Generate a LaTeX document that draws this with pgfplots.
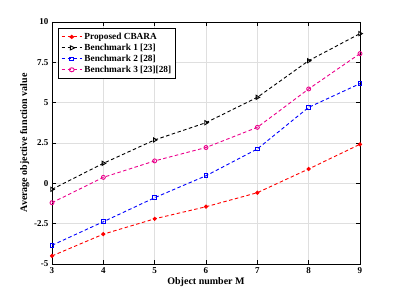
\documentclass[border=0pt]{standalone}
\usepackage{pgfplots}
\pgfplotsset{compat=1.18}
\usepackage{fontspec}
\setmainfont{Liberation Serif}
\begin{document}
\begin{tikzpicture}[x=1pt,y=1pt]
\path[use as bounding box] (0,0) rectangle (397,297);
\begin{axis}[
  at={(52pt,33pt)}, anchor=south west,
  scale only axis, width=308pt, height=242pt,
  xmin=3, xmax=9, ymin=-5, ymax=10,
  xtick={3,4,5,6,7,8,9},
  ytick={-5,-2.5,0,2.5,5,7.5,10},
  yticklabels={-5,-2.5,0,2.5,5,7.5,10},
  /pgf/number format/assume math mode=true,
  ticklabel style={font=\bfseries\fontsize{9}{10}\selectfont},
  tick align=inside, major tick length=4pt,
  tick style={black, line width=0.6pt},
  axis line style={line width=0.8pt},
  grid=major, grid style={gray!25, line width=0.7pt},
  xlabel={\bfseries Object number M},
  ylabel={\bfseries Average objective function value},
  label style={font=\bfseries\fontsize{10}{12}\selectfont},
  xlabel style={yshift=3pt},
  ylabel style={yshift=-2pt},
  legend style={at={(0.02,0.975)}, anchor=north west, draw=black, line width=0.8pt,
    font=\bfseries\fontsize{9.3}{11}\selectfont, row sep=-1pt, inner sep=2.5pt},
  legend cell align=left,
  legend image post style={xscale=1.2},
  every axis plot/.append style={line width=0.9pt, dash pattern=on 3.5pt off 2.5pt},
]
\addplot[red, mark=*, mark size=1.6pt, mark options={solid}] coordinates {
(3,-4.50) (4,-3.15) (5,-2.20) (6,-1.45) (7,-0.58) (8,0.89) (9,2.42)};
\addlegendentry{Proposed CBARA}
\addplot[black, mark=triangle, mark size=2.4pt, mark options={solid, rotate=-90}] coordinates {
(3,-0.37) (4,1.24) (5,2.69) (6,3.76) (7,5.33) (8,7.60) (9,9.28)};
\addlegendentry{Benchmark 1 [23]}
\addplot[blue, mark=square, mark size=1.8pt, mark options={solid}] coordinates {
(3,-3.84) (4,-2.38) (5,-0.89) (6,0.47) (7,2.13) (8,4.71) (9,6.18)};
\addlegendentry{Benchmark 2 [28]}
\addplot[magenta, mark=o, mark size=2pt, mark options={solid, fill=magenta!60}] coordinates {
(3,-1.20) (4,0.37) (5,1.39) (6,2.22) (7,3.47) (8,5.85) (9,8.04)};
\addlegendentry{Benchmark 3 [23][28]}
\end{axis}
\end{tikzpicture}
\end{document}
